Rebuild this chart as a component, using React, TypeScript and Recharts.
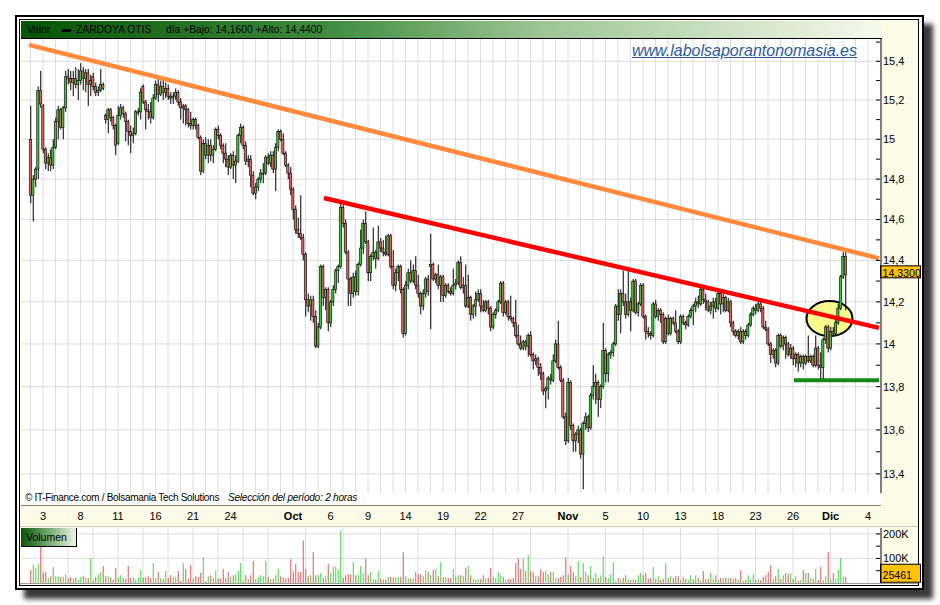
import React from "react";
import {
  ComposedChart,
  BarChart,
  Bar,
  XAxis,
  YAxis,
  CartesianGrid,
  ReferenceLine,
  ReferenceDot,
  Cell,
} from "recharts";

// 2-hour candles, five per trading day, Sept 2 -> Dec 2
const PER_DAY = 5;

const opens = [
  15.0, 14.72, 14.8, 14.85, 15.25, 15.17, 14.95, 14.88, 14.91, 14.87,
  14.96, 15.09, 15.15, 15.06, 15.16, 15.32, 15.31, 15.29, 15.31, 15.28,
  15.3, 15.35, 15.31, 15.34, 15.28, 15.32, 15.27, 15.24, 15.25, 15.28,
  15.12, 15.1, 15.15, 15.11, 15.07, 14.98, 15.12, 15.16, 15.13, 15.09,
  15.04, 15.02, 15.03, 15.14, 15.14, 15.27, 15.19, 15.15, 15.14, 15.11,
  15.21, 15.28, 15.23, 15.27, 15.24, 15.26, 15.22, 15.21, 15.22, 15.24,
  15.19, 15.16, 15.17, 15.15, 15.08, 15.07, 15.1, 15.07, 15.01, 14.84,
  14.98, 14.92, 14.97, 14.92, 14.95, 15.05, 15.02, 14.97, 14.93, 14.9,
  14.86, 14.92, 14.87, 14.89, 15.02, 15.06, 14.97, 14.89, 14.9, 14.82,
  14.73, 14.76, 14.8, 14.83, 14.83, 14.91, 14.88, 14.92, 14.85, 14.96,
  15.04, 15.0, 14.93, 14.87, 14.83, 14.75, 14.65, 14.55, 14.53, 14.51,
  14.43, 14.21, 14.18, 14.21, 14.13, 13.99, 14.08, 14.37, 14.22, 14.26,
  14.1, 14.2, 14.26, 14.35, 14.37, 14.66, 14.58, 14.44, 14.31, 14.24,
  14.32, 14.25, 14.38, 14.46, 14.58, 14.49, 14.34, 14.42, 14.44, 14.41,
  14.49, 14.46, 14.44, 14.43, 14.52, 14.37, 14.28, 14.34, 14.37, 14.26,
  14.05, 14.28, 14.34, 14.3, 14.35, 14.28, 14.24, 14.18, 14.24, 14.31,
  14.37, 14.38, 14.31, 14.33, 14.28, 14.32, 14.23, 14.28, 14.25, 14.24,
  14.28, 14.29, 14.39, 14.27, 14.28, 14.18, 14.22, 14.14, 14.18, 14.21,
  14.24, 14.18, 14.16, 14.2, 14.17, 14.08, 14.14, 14.16, 14.2, 14.29,
  14.15, 14.2, 14.13, 14.12, 14.1, 14.04, 14.0, 13.98, 14.01, 13.99,
  14.04, 13.95, 13.92, 13.93, 13.89, 13.86, 13.78, 13.79, 13.84, 13.83,
  13.92, 14.0, 13.89, 13.83, 13.66, 13.55, 13.82, 13.62, 13.55, 13.58,
  13.6, 13.49, 13.63, 13.66, 13.61, 13.76, 13.8, 13.82, 13.74, 13.8,
  13.97, 13.86, 13.95, 13.96, 14.0, 14.18, 14.14, 14.24, 14.2, 14.14,
  14.2, 14.16, 14.3, 14.15, 14.19, 14.28, 14.13, 14.06, 14.05, 14.04,
  14.19, 14.13, 14.16, 14.14, 14.01, 14.12, 14.05, 14.12, 14.1, 14.06,
  14.01, 14.13, 14.1, 14.09, 14.13, 14.16, 14.18, 14.2, 14.19, 14.26,
  14.21, 14.2, 14.16, 14.18, 14.2, 14.17, 14.24, 14.19, 14.22, 14.16,
  14.2, 14.1, 14.06, 14.04, 14.06, 14.01, 14.06, 14.04, 14.09, 14.14,
  14.17, 14.16, 14.19, 14.17, 14.08, 14.07, 14.0, 13.95, 13.97, 13.91,
  14.04, 13.99, 14.03, 14.0, 13.95, 13.98, 13.93, 13.95, 13.91, 13.94,
  13.91, 13.94, 13.92, 13.94, 13.9, 13.98, 13.9, 13.89, 14.02, 14.08,
  13.98, 14.06, 14.05, 14.1, 14.17, 14.32, 14.42,
];

const highs = [
  15.17, 14.82, 14.86, 15.27, 15.35, 15.18, 14.96, 14.93, 14.95, 15.0,
  15.11, 15.17, 15.16, 15.17, 15.35, 15.36, 15.35, 15.35, 15.37, 15.36,
  15.39, 15.37, 15.36, 15.36, 15.33, 15.34, 15.29, 15.27, 15.36, 15.29,
  15.13, 15.16, 15.16, 15.12, 15.08, 15.17, 15.18, 15.17, 15.14, 15.1,
  15.07, 15.06, 15.15, 15.16, 15.26, 15.28, 15.2, 15.18, 15.19, 15.23,
  15.3, 15.31, 15.3, 15.31, 15.29, 15.28, 15.24, 15.24, 15.26, 15.25,
  15.21, 15.18, 15.18, 15.16, 15.14, 15.11, 15.11, 15.08, 15.02, 15.0,
  15.01, 15.0, 15.0, 14.97, 15.06, 15.07, 15.03, 14.98, 14.98, 14.92,
  14.93, 14.94, 14.92, 15.03, 15.08, 15.07, 14.99, 14.92, 14.92, 14.84,
  14.78, 14.81, 14.85, 14.88, 14.92, 14.93, 14.94, 14.94, 14.98, 15.05,
  15.05, 15.03, 14.94, 14.88, 14.86, 14.76, 14.67, 14.61, 14.72, 14.53,
  14.44, 14.24, 14.23, 14.23, 14.16, 14.1, 14.38, 14.38, 14.27, 14.27,
  14.21, 14.28, 14.36, 14.38, 14.68, 14.67, 14.6, 14.45, 14.32, 14.34,
  14.35, 14.39, 14.55, 14.6, 14.64, 14.5, 14.43, 14.56, 14.45, 14.57,
  14.51, 14.5, 14.52, 14.53, 14.53, 14.45, 14.36, 14.38, 14.38, 14.27,
  14.3, 14.36, 14.4, 14.38, 14.42, 14.33, 14.25, 14.26, 14.32, 14.33,
  14.53, 14.39, 14.34, 14.38, 14.33, 14.33, 14.29, 14.29, 14.27, 14.36,
  14.31, 14.4, 14.42, 14.32, 14.38, 14.33, 14.23, 14.19, 14.25, 14.26,
  14.26, 14.21, 14.21, 14.21, 14.18, 14.15, 14.17, 14.21, 14.3, 14.3,
  14.21, 14.21, 14.23, 14.13, 14.21, 14.09, 14.04, 14.02, 14.02, 14.05,
  14.06, 13.96, 13.95, 13.94, 13.91, 13.87, 13.8, 13.85, 13.86, 13.95,
  14.02, 14.11, 13.9, 13.84, 13.68, 13.84, 13.83, 13.63, 13.59, 13.62,
  13.61, 13.64, 13.68, 13.67, 13.77, 13.9, 13.86, 13.83, 13.81, 14.1,
  13.98, 13.96, 13.97, 14.01, 14.19, 14.26, 14.26, 14.35, 14.24, 14.35,
  14.22, 14.31, 14.31, 14.2, 14.29, 14.29, 14.14, 14.08, 14.06, 14.2,
  14.21, 14.17, 14.17, 14.15, 14.13, 14.14, 14.13, 14.13, 14.16, 14.07,
  14.14, 14.14, 14.11, 14.14, 14.17, 14.19, 14.22, 14.23, 14.27, 14.28,
  14.24, 14.21, 14.2, 14.22, 14.22, 14.25, 14.25, 14.24, 14.23, 14.22,
  14.21, 14.11, 14.07, 14.07, 14.08, 14.07, 14.07, 14.1, 14.15, 14.18,
  14.19, 14.2, 14.2, 14.18, 14.11, 14.08, 14.01, 13.98, 13.98, 14.05,
  14.05, 14.04, 14.04, 14.01, 14.0, 13.99, 13.96, 13.96, 13.95, 13.95,
  13.95, 14.04, 13.95, 13.95, 14.04, 13.99, 13.96, 14.03, 14.09, 14.09,
  14.08, 14.08, 14.12, 14.19, 14.33, 14.44, 14.44,
];

const lows = [
  14.68, 14.59, 14.76, 14.8, 15.16, 14.93, 14.85, 14.84, 14.84, 14.85,
  14.95, 15.0, 15.05, 15.0, 15.14, 15.28, 15.25, 15.22, 15.26, 15.2,
  15.28, 15.25, 15.24, 15.17, 15.22, 15.25, 15.22, 15.22, 15.24, 15.25,
  15.08, 15.03, 15.09, 15.05, 14.92, 14.97, 15.1, 15.11, 14.99, 14.97,
  14.93, 14.98, 15.02, 15.12, 15.1, 15.18, 15.05, 15.1, 15.08, 15.1,
  15.2, 15.19, 15.22, 15.2, 15.21, 15.2, 15.18, 15.18, 15.2, 15.17,
  15.1, 15.08, 15.07, 15.06, 15.05, 15.05, 15.05, 15.0, 14.82, 14.83,
  14.9, 14.88, 14.89, 14.88, 14.94, 15.0, 14.95, 14.88, 14.86, 14.82,
  14.85, 14.8, 14.78, 14.88, 14.98, 14.95, 14.87, 14.86, 14.76, 14.72,
  14.7, 14.74, 14.78, 14.78, 14.82, 14.87, 14.86, 14.83, 14.74, 14.94,
  14.99, 14.92, 14.86, 14.8, 14.72, 14.6, 14.53, 14.51, 14.5, 14.4,
  14.13, 14.15, 14.11, 14.1, 13.98, 13.98, 14.07, 14.18, 14.16, 14.06,
  14.08, 14.18, 14.24, 14.29, 14.36, 14.56, 14.43, 14.18, 14.18, 14.22,
  14.23, 14.23, 14.37, 14.43, 14.48, 14.3, 14.3, 14.4, 14.36, 14.4,
  14.44, 14.42, 14.42, 14.42, 14.36, 14.26, 14.25, 14.3, 14.24, 14.03,
  14.04, 14.26, 14.29, 14.29, 14.26, 14.22, 14.14, 14.16, 14.22, 14.23,
  14.07, 14.3, 14.29, 14.26, 14.2, 14.2, 14.22, 14.24, 14.23, 14.23,
  14.26, 14.28, 14.26, 14.24, 14.17, 14.17, 14.11, 14.12, 14.13, 14.2,
  14.15, 14.15, 14.15, 14.14, 14.06, 14.07, 14.12, 14.15, 14.19, 14.13,
  14.14, 14.11, 14.11, 14.08, 14.03, 13.99, 13.97, 13.97, 13.97, 13.94,
  13.94, 13.88, 13.9, 13.85, 13.83, 13.76, 13.7, 13.74, 13.81, 13.82,
  13.91, 13.88, 13.82, 13.65, 13.53, 13.54, 13.6, 13.5, 13.5, 13.54,
  13.47, 13.33, 13.6, 13.59, 13.6, 13.74, 13.72, 13.66, 13.7, 13.79,
  13.82, 13.82, 13.93, 13.94, 13.99, 14.11, 14.05, 14.18, 14.12, 14.13,
  14.06, 14.15, 14.14, 14.13, 14.18, 14.12, 14.02, 14.03, 14.02, 14.03,
  14.12, 14.11, 14.1, 14.0, 14.0, 14.04, 14.04, 14.09, 14.05, 14.0,
  14.0, 14.09, 14.07, 14.08, 14.12, 14.09, 14.15, 14.17, 14.18, 14.19,
  14.16, 14.15, 14.14, 14.12, 14.15, 14.16, 14.14, 14.15, 14.15, 14.15,
  14.08, 14.04, 14.03, 14.02, 14.0, 14.0, 14.02, 14.03, 14.08, 14.13,
  14.14, 14.15, 14.15, 14.07, 14.06, 13.99, 13.91, 13.93, 13.89, 13.9,
  13.98, 13.97, 13.93, 13.94, 13.93, 13.9, 13.89, 13.87, 13.89, 13.88,
  13.9, 13.91, 13.91, 13.89, 13.89, 13.88, 13.83, 13.83, 14.0, 13.96,
  13.97, 14.04, 14.04, 14.09, 14.16, 14.31, 14.16,
];

const closes = [
  14.72, 14.8, 14.85, 15.25, 15.18, 14.95, 14.88, 14.91, 14.87, 14.96,
  15.09, 15.15, 15.06, 15.16, 15.32, 15.31, 15.29, 15.31, 15.28, 15.3,
  15.35, 15.31, 15.34, 15.28, 15.3, 15.27, 15.24, 15.25, 15.28, 15.26,
  15.1, 15.15, 15.11, 15.07, 14.97, 15.12, 15.16, 15.13, 15.09, 15.04,
  15.02, 15.03, 15.14, 15.14, 15.24, 15.19, 15.15, 15.14, 15.11, 15.21,
  15.28, 15.23, 15.27, 15.24, 15.26, 15.22, 15.21, 15.22, 15.24, 15.19,
  15.16, 15.17, 15.15, 15.08, 15.07, 15.1, 15.07, 15.01, 14.84, 14.98,
  14.92, 14.97, 14.92, 14.95, 15.05, 15.02, 14.97, 14.93, 14.9, 14.86,
  14.92, 14.87, 14.89, 15.02, 15.06, 14.97, 14.89, 14.9, 14.82, 14.73,
  14.76, 14.8, 14.83, 14.83, 14.91, 14.88, 14.92, 14.85, 14.96, 15.04,
  15.0, 14.93, 14.87, 14.83, 14.75, 14.65, 14.55, 14.53, 14.51, 14.43,
  14.21, 14.18, 14.21, 14.13, 13.99, 14.08, 14.37, 14.22, 14.26, 14.1,
  14.2, 14.26, 14.35, 14.37, 14.66, 14.58, 14.44, 14.31, 14.24, 14.32,
  14.25, 14.38, 14.46, 14.58, 14.49, 14.34, 14.42, 14.44, 14.41, 14.49,
  14.46, 14.44, 14.43, 14.52, 14.37, 14.28, 14.34, 14.37, 14.26, 14.05,
  14.28, 14.34, 14.3, 14.35, 14.28, 14.24, 14.18, 14.24, 14.31, 14.25,
  14.38, 14.31, 14.33, 14.28, 14.32, 14.23, 14.28, 14.25, 14.24, 14.28,
  14.29, 14.39, 14.27, 14.28, 14.18, 14.22, 14.14, 14.18, 14.21, 14.24,
  14.18, 14.16, 14.2, 14.17, 14.08, 14.14, 14.16, 14.2, 14.29, 14.15,
  14.2, 14.13, 14.12, 14.1, 14.04, 14.0, 13.98, 14.01, 13.99, 14.04,
  13.95, 13.92, 13.93, 13.89, 13.86, 13.78, 13.79, 13.84, 13.83, 13.92,
  14.0, 13.89, 13.83, 13.66, 13.55, 13.82, 13.62, 13.55, 13.58, 13.6,
  13.49, 13.63, 13.66, 13.61, 13.76, 13.8, 13.82, 13.74, 13.8, 13.97,
  13.86, 13.95, 13.96, 14.0, 14.18, 14.14, 14.24, 14.2, 14.14, 14.2,
  14.16, 14.3, 14.15, 14.19, 14.28, 14.13, 14.06, 14.05, 14.04, 14.19,
  14.13, 14.16, 14.14, 14.01, 14.12, 14.05, 14.12, 14.1, 14.06, 14.01,
  14.13, 14.1, 14.09, 14.13, 14.16, 14.18, 14.2, 14.19, 14.26, 14.21,
  14.2, 14.16, 14.18, 14.2, 14.17, 14.24, 14.19, 14.22, 14.16, 14.2,
  14.1, 14.06, 14.04, 14.06, 14.01, 14.06, 14.04, 14.09, 14.14, 14.17,
  14.16, 14.19, 14.17, 14.08, 14.07, 14.0, 13.95, 13.97, 13.91, 14.04,
  13.99, 14.03, 14.0, 13.95, 13.98, 13.93, 13.95, 13.91, 13.94, 13.91,
  13.94, 13.92, 13.94, 13.9, 13.98, 13.9, 13.89, 14.02, 14.08, 13.98,
  14.06, 14.05, 14.1, 14.17, 14.32, 14.42, 14.33,
];

// volume per candle, thousands of shares
const volumes = [
  53, 73, 61, 77, 150, 42, 46, 22, 28, 65,
  28, 28, 24, 24, 36, 18, 24, 19, 22, 14, 24,
  28, 20, 20, 101, 11, 24, 34, 45,
  69, 28, 28, 22, 12, 61, 20, 32, 20, 16,
  69, 20, 24, 14, 22, 53, 22, 24, 28, 20,
  81, 20, 46, 20, 16, 49, 20, 32, 23, 24,
  49, 8, 81, 57, 16, 73, 18, 28, 24, 42,
  105, 8, 28, 32, 20, 50, 18, 16, 57,
  20, 46, 26, 32, 35,
  50, 81, 8, 32, 16, 32, 89, 16, 24, 32, 28, 89, 24,
  16, 16, 32, 57, 28, 22, 18, 20, 97, 49, 77,
  45, 45, 173, 57,
  28, 32, 126, 32, 32, 41, 20, 28, 77, 41, 65, 68, 53,
  213, 20, 32, 36, 36, 85, 32, 32, 69, 41, 101, 32, 45, 16, 14,
  49, 16, 14,
  14, 24, 24, 22, 23, 24, 24,
  126,
  28, 18, 18, 18, 45, 36, 36, 28, 53, 45, 32, 53, 57, 28,
  85, 24, 24, 20, 20, 57, 28, 32, 32, 28,
  61, 69, 32, 16, 14, 16, 16, 32, 20, 20,
  61, 24, 20, 45, 32, 24, 12, 16, 16, 20,
  81, 101, 57, 101, 49, 113, 49, 45, 28, 28,
  57, 45, 49, 36, 45, 45, 20, 20, 24, 32,
  105, 36, 69, 45, 28, 89, 24, 81, 45, 32,
  69, 20, 41, 20, 32, 109, 24, 20, 36, 85,
  8, 20, 14, 20, 32, 16, 12, 16, 12, 32,
  41, 32, 41, 16, 20, 65, 16, 28, 12, 16,
  81, 20, 28, 20, 28, 28, 12, 24, 16, 12,
  32, 16, 32, 20, 12, 49, 16, 16, 41, 16,
  32, 12, 20, 20, 20, 20, 20, 16, 20, 12,
  53, 8, 12, 32, 12, 36, 12, 16, 12, 24,
  32, 45, 73, 16, 28, 57, 16, 32, 41, 36,
  41, 16, 28, 8, 12, 53, 41, 41, 20, 16,
  57, 12, 65, 12, 28, 126, 16, 41, 16, 53,
  101, 28, 25.461,
];

// x axis: trading-day number of each label
const labelDays = [1, 4, 7, 10, 13, 16, 21, 24, 27, 30, 33, 36, 39, 43, 46, 49, 52, 55, 58, 61, 64, 67];
const labelTexts = ["3", "8", "11", "16", "21", "24", "Oct", "6", "9", "14", "19", "22", "27", "Nov", "5", "10", "13", "18", "23", "26", "Dic", "4"];

const priceMajor = [13.4, 13.6, 13.8, 14, 14.2, 14.4, 14.6, 14.8, 15, 15.2, 15.4];
const priceMinor = [13.3, 13.5, 13.7, 13.9, 14.1, 14.3, 14.5, 14.7, 14.9, 15.1, 15.3, 15.5];
const volTicks = [50, 100, 150, 200];
const volLabels = [100, 200];

// drawn lines: [candle index, price]
const longResistance = [[-0.6, 15.485], [339.4, 14.41]];
const shortResistance = [[117.4, 14.706], [339.4, 14.076]];
const supportLine = [[305.4, 13.83], [339.4, 13.83]];
const breakoutMark = [319.6, 14.12];

const X_DOMAIN = [-3.8, 340.2];
const Y_DOMAIN = [13.26, 15.516];
const FONT = "'Liberation Sans', Arial, sans-serif";
const UP = "#38c838";
const DOWN = "#e06262";
const VUP = "#40d440";
const VDOWN = "#e05a5a";

const candles = closes.map((c, i) => ({
  i,
  body: [Math.min(opens[i], c), Math.max(opens[i], c)],
  wick: [lows[i], highs[i]],
  up: c >= opens[i],
  vol: volumes[i],
}));

const lastClose = closes[closes.length - 1];
const lastVol = volumes[volumes.length - 1];
const gridDays = Array.from({ length: 68 }, (_, d) => d * PER_DAY);
const allPriceTicks = [...priceMajor, ...priceMinor].sort((a, b) => a - b);

const fmtPrice = (v: number) => String(v).replace(".", ",");

const Wick = (p: any) => (
  <rect x={p.x + p.width / 2 - 0.5} y={p.y} width={1} height={Math.max(p.height, 1)} fill="#000" />
);

const Body = (p: any) => (
  <rect
    x={p.x}
    y={p.y}
    width={p.width}
    height={Math.max(p.height, 1)}
    fill={p.payload.up ? UP : DOWN}
    stroke="#000"
    strokeWidth={0.6}
  />
);

const DayTick = ({ x, y, payload }: any) => {
  const k = labelDays.indexOf(payload.value / PER_DAY);
  if (k < 0) return <g />;
  const txt = labelTexts[k];
  const month = isNaN(Number(txt));
  return (
    <text x={x} y={y + 15} textAnchor="middle" fontSize={11} fontFamily={FONT} fontWeight={month ? 700 : 400} fill="#000">
      {txt}
    </text>
  );
};

const PriceTick = ({ x, y, payload }: any) => {
  const major = priceMajor.includes(payload.value);
  return (
    <g>
      <line x1={x - 5} x2={x - 1} y1={y} y2={y} stroke="#000" />
      {major && (
        <text x={x + 2} y={y + 4} fontSize={11} fontFamily={FONT} fill="#000">
          {fmtPrice(payload.value)}
        </text>
      )}
    </g>
  );
};

const VolTick = ({ x, y, payload }: any) => (
  <g>
    <line x1={x - 5} x2={x - 1} y1={y} y2={y} stroke="#000" />
    {volLabels.includes(payload.value) && (
      <text x={x + 2} y={y + 4} fontSize={11} fontFamily={FONT} fill="#000">
        {payload.value}K
      </text>
    )}
  </g>
);

const ValueBox = (text: string, up: number, h: number, base: number) => (p: any) => {
  const vb = p.viewBox;
  const x = vb.x + vb.width;
  return (
    <g>
      <rect x={x - 0.5} y={vb.y - up} width={40} height={h} fill="#ffc20a" stroke="#000" strokeWidth={1} />
      <text x={x + 1.5} y={vb.y + base} fontSize={10.6} fontFamily={FONT} fill="#000">
        {text}
      </text>
    </g>
  );
};

const Ellipse = (p: any) => (
  <ellipse cx={p.cx} cy={p.cy} rx={23} ry={17.5} fill="#f8f870" fillOpacity={0.8} stroke="#000" strokeWidth={2} />
);

const abs = (left: number, top: number, width: number, height: number, extra: React.CSSProperties = {}): React.CSSProperties => ({
  position: "absolute",
  left,
  top,
  width,
  height,
  boxSizing: "border-box",
  ...extra,
});

export default function App() {
  return (
    <div style={abs(0, 0, 940, 605, { background: "#fff", fontFamily: FONT, overflow: "hidden" })}>
      {/* frame with drop shadow */}
      <div style={abs(15, 15, 909, 575, { border: "2px solid #000", background: "#fff", boxShadow: "9px 9px 5px rgba(35,35,35,0.9)" })} />
      <div style={abs(19, 19, 900, 567, { border: "1px solid #000", background: "#fbfbe7" })} />

      {/* plot backgrounds */}
      <div style={abs(21, 39, 861, 466, { background: "#fff" })} />
      <div style={abs(21, 528, 861, 55, { background: "#fff" })} />
      <div style={abs(20, 526, 898, 1, { background: "#c8c8c8" })} />
      <div style={abs(20, 583, 898, 1, { background: "#9a9a9a" })} />

      {/* header bar */}
      <div
        style={abs(21, 21, 861, 18, {
          background: "linear-gradient(to right, #065406, #3d8a3d 35%, #9cc494 60%, #f6f9ec)",
          borderBottom: "1px solid #000",
          fontSize: 10.3,
          color: "#000",
          whiteSpace: "nowrap",
        })}
      >
        <span style={{ position: "absolute", left: 6, top: 3 }}>Valor</span>
        <span style={{ position: "absolute", left: 41, top: 8, width: 9, height: 3, background: "#000" }} />
        <span style={{ position: "absolute", left: 55, top: 3 }}>ZARDOYA OTIS</span>
        <span style={{ position: "absolute", left: 145, top: 3 }}>día +Bajo: 14,1600 +Alto: 14,4400</span>
      </div>

      {/* price chart */}
      <div style={abs(21, 39, 901, 486)}>
        <ComposedChart width={901} height={486} data={candles} margin={{ top: 0, right: 0, bottom: 0, left: 0 }}>
          <CartesianGrid stroke="#dcdcdc" horizontalValues={priceMajor} verticalValues={gridDays} />
          <XAxis
            dataKey="i"
            type="number"
            domain={X_DOMAIN}
            allowDataOverflow
            ticks={gridDays}
            interval={0}
            tick={<DayTick />}
            tickLine={false}
            tickSize={0}
            tickMargin={0}
            axisLine={{ stroke: "#000" }}
            height={20}
          />
          <XAxis xAxisId="w" dataKey="i" type="number" domain={X_DOMAIN} allowDataOverflow hide />
          <YAxis
            orientation="right"
            scale="log"
            type="number"
            domain={Y_DOMAIN}
            allowDataOverflow
            ticks={allPriceTicks}
            interval={0}
            tick={<PriceTick />}
            tickLine={false}
            tickSize={0}
            tickMargin={0}
            axisLine={{ stroke: "#000" }}
            width={41}
          />
          <ReferenceDot
            x={breakoutMark[0]}
            y={breakoutMark[1]}
            shape={Ellipse}
            ifOverflow="visible"
            {...({ zIndex: 250 } as any)}
          />
          <Bar xAxisId="w" dataKey="wick" barSize={1} shape={Wick} isAnimationActive={false} />
          <Bar dataKey="body" barSize={2.2} shape={Body} isAnimationActive={false} />
          <ReferenceLine
            segment={longResistance.map(([x, y]) => ({ x, y }))}
            stroke="#ff8a3e"
            strokeWidth={4.5}
            ifOverflow="visible"
          />
          <ReferenceLine
            segment={shortResistance.map(([x, y]) => ({ x, y }))}
            stroke="#ff0000"
            strokeWidth={4.5}
            ifOverflow="visible"
          />
          <ReferenceLine
            segment={supportLine.map(([x, y]) => ({ x, y }))}
            stroke="#138a13"
            strokeWidth={4}
            ifOverflow="visible"
          />
          <ReferenceLine y={lastClose} stroke="none" label={ValueBox(lastClose.toFixed(4).replace(".", ","), 9, 12, 2)} />
        </ComposedChart>
      </div>

      {/* footer strip */}
      <div style={abs(21, 493, 861, 12, { background: "#fff", fontSize: 10, whiteSpace: "nowrap", color: "#000" })}>
        <span style={{ position: "absolute", left: 4, top: -1, letterSpacing: -0.3 }}>© IT-Finance.com / Bolsamania Tech Solutions</span>
        <span style={{ position: "absolute", left: 207, top: -1, fontStyle: "italic", letterSpacing: -0.2 }}>Selección del período: 2 horas</span>
      </div>

      {/* link */}
      <div
        style={abs(632, 42, 240, 20, {
          fontSize: 16,
          fontStyle: "italic",
          color: "#2c5aa0",
          textDecoration: "underline",
          whiteSpace: "nowrap",
        })}
      >
        www.labolsaporantonomasia.es
      </div>

      {/* volume chart */}
      <div style={abs(21, 528, 901, 55)}>
        <BarChart width={901} height={55} data={candles} margin={{ top: 0, right: 0, bottom: 0, left: 0 }}>
          <CartesianGrid stroke="#dcdcdc" horizontalValues={volLabels} verticalValues={gridDays} />
          <XAxis dataKey="i" type="number" domain={X_DOMAIN} allowDataOverflow hide />
          <YAxis
            orientation="right"
            type="number"
            domain={[0, 224]}
            allowDataOverflow
            ticks={volTicks}
            interval={0}
            tick={<VolTick />}
            tickLine={false}
            tickSize={0}
            tickMargin={0}
            axisLine={{ stroke: "#000" }}
            width={41}
          />
          <Bar dataKey="vol" barSize={1} isAnimationActive={false}>
            {candles.map((c) => (
              <Cell key={c.i} fill={c.up ? VUP : VDOWN} />
            ))}
          </Bar>
          <ReferenceLine y={lastVol} stroke="none" label={ValueBox(String(Math.round(lastVol * 1000)), 12.5, 18, 2)} />
        </BarChart>
      </div>

      {/* Volumen tag */}
      <div
        style={abs(21, 528, 56, 19, {
          background: "linear-gradient(to right, #075507, #7fb07a 55%, #eef4e6)",
          borderRight: "1px solid #000",
          borderBottom: "1px solid #000",
          fontSize: 10.5,
          paddingLeft: 5,
          paddingTop: 3,
          color: "#000",
        })}
      >
        Volumen
      </div>
    </div>
  );
}
